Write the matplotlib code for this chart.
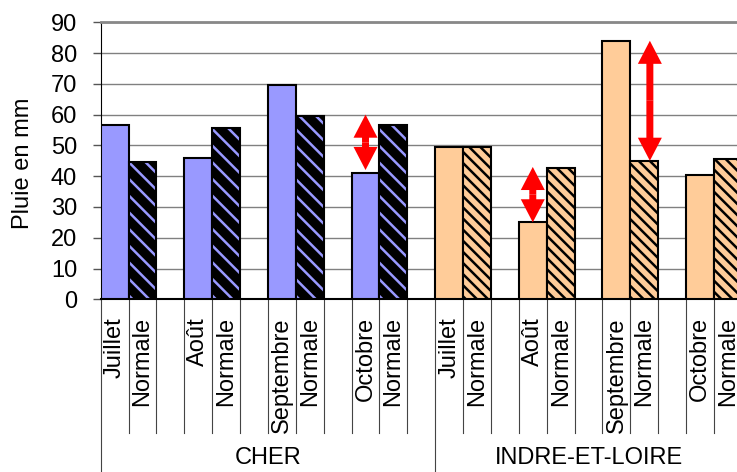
import numpy as np
import matplotlib
matplotlib.use("Agg")
import matplotlib.pyplot as plt
import matplotlib.transforms as mtransforms

plt.rcParams['font.family'] = ['Liberation Sans', 'DejaVu Sans']
plt.rcParams['hatch.linewidth'] = 1.8

# Pluie mensuelle et normales (mm)
months = ['Juillet', 'Août', 'Septembre', 'Octobre']
groups = ['CHER', 'INDRE-ET-LOIRE']
cher_obs = [56.5, 46, 69.5, 41]
cher_norm = [44.5, 55.5, 59.5, 56.5]
indre_obs = [49.5, 25, 84, 40.5]
indre_norm = [49.5, 42.5, 45, 45.5]

# flèches d'écart : (département, mois, décalage x, bas, haut)
arrows = [(0, 3, 0.0, 42, 60), (1, 1, 0.0, 25, 43), (1, 2, 1.2, 45, 84)]

obs = [cher_obs, indre_obs]
norm = [cher_norm, indre_norm]
colors = ['#9999FF', '#FFCC99']
hatch_face = ['black', '#FFCC99']
hatch_col = ['#9999FF', 'black']
hatches = ['\\\\', '\\\\\\']

n_cat = 23
fig = plt.figure(figsize=(7.37, 4.72), dpi=100)
ax = fig.add_axes([0.1366, 0.3659, 0.870, 0.5869])


def pos(g, m):
    return 12 * g + 3 * m


for g in range(2):
    xo = np.array([pos(g, m) for m in range(4)])
    ax.bar(xo, obs[g], width=1.0, color=colors[g], edgecolor='black',
           linewidth=1.5, zorder=3)
    # barres hachurées : d'abord le motif, puis le contour
    ax.bar(xo + 1, norm[g], width=1.0, color=hatch_face[g],
           edgecolor=hatch_col[g], hatch=hatches[g], linewidth=0, zorder=3)
    ax.bar(xo + 1, norm[g], width=1.0, fill=False, edgecolor='black',
           linewidth=1.5, zorder=4)

# doubles flèches : deux flèches partant du milieu
for g, m, dx, lo, hi in arrows:
    x = pos(g, m) + dx
    mid = (lo + hi) / 2
    for end in (hi, lo):
        ax.arrow(x, mid, 0, end - mid, width=0.25, head_width=0.86,
                 head_length=7.5, length_includes_head=True,
                 color='red', linewidth=0, zorder=6)

ax.set_xlim(-0.5, n_cat - 0.5)
ax.set_ylim(0, 90)
ax.set_yticks(np.arange(0, 91, 10))
ax.tick_params(axis='y', labelsize=17, length=6, width=1, pad=11, color='#555555')
ax.grid(axis='y', color='#808080', linewidth=1)
ax.set_axisbelow(True)
ax.set_ylabel('Pluie en mm', fontsize=17)
ax.yaxis.set_label_coords(-0.104, 0.49)

labels = [''] * n_cat
for g in range(2):
    for m, name in enumerate(months):
        labels[pos(g, m)] = name
        labels[pos(g, m) + 1] = 'Normale'
ax.set_xticks(np.arange(n_cat))
ax.set_xticklabels(labels, rotation=90, fontsize=17)
ax.tick_params(axis='x', length=0, pad=13)

ax.spines['right'].set_visible(False)
ax.spines['top'].set_color('#888888')
ax.spines['top'].set_linewidth(2)
ax.spines['left'].set_color('black')
ax.spines['bottom'].set_color('black')
ax.spines['bottom'].set_linewidth(1.5)

# séparateurs des catégories et des départements sous l'axe
trans = mtransforms.blended_transform_factory(ax.transData, ax.transAxes)
for i in range(1, n_cat):
    if i % 12 == 0:
        continue
    x = i - 0.5
    ax.plot([x, x], [0, -0.483], transform=trans, color='#444444',
            linewidth=0.8, clip_on=False)
for g in range(2):
    x = 12 * g - 0.5
    ax.plot([x, x], [0, -0.7], transform=trans, color='#444444',
            linewidth=0.8, clip_on=False)
    xc = (12 * g - 0.5 + min(12 * g + 11.5, n_cat - 0.5)) / 2
    ax.text(xc, -0.573, groups[g], transform=trans, ha='center', va='center',
            fontsize=17)

fig.savefig('out.png', dpi=100)
